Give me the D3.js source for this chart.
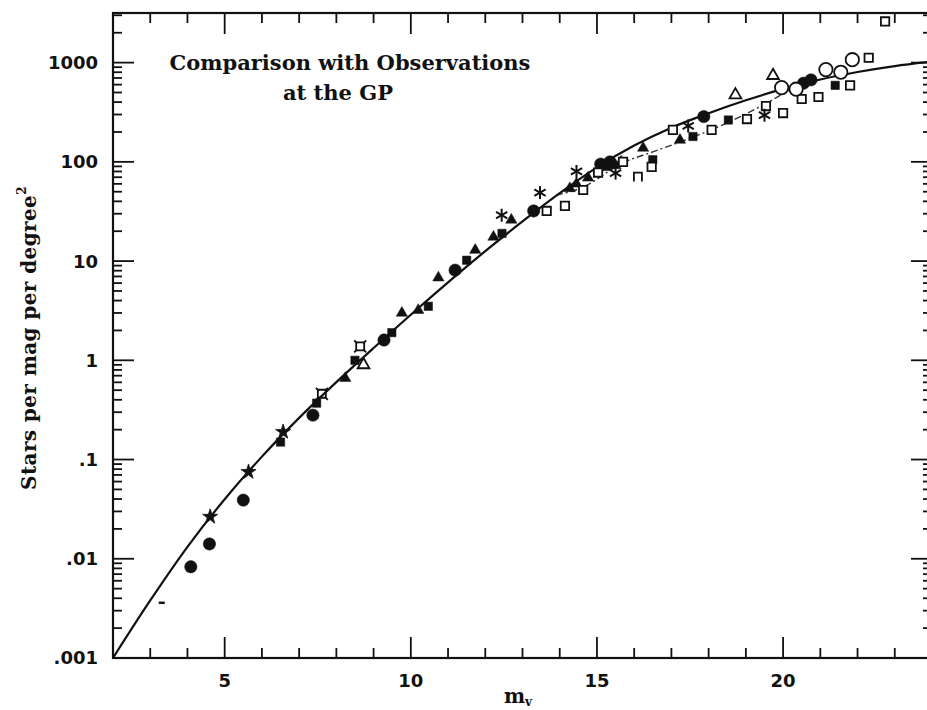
<!DOCTYPE html>
<html>
  <head>
    <meta charset="utf-8">
    <title>Comparison with Observations at the GP</title>
    <script src="https://cdn.jsdelivr.net/npm/d3@7"></script>
    <style>
      body { margin: 0; background: #fff; }
      svg { display: block; }
      .tick-label { font-family: "DejaVu Sans", sans-serif; font-weight: bold; font-size: 18px; fill: #111; }
      .title { font-family: "DejaVu Serif", serif; font-weight: bold; font-size: 21px; fill: #111; }
      .axis-title { font-family: "DejaVu Serif", serif; font-weight: bold; font-size: 20px; fill: #111; }
    </style>
  </head>
  <body>
    <svg id="chart"></svg>
    <script>
// model curve (solid)
var curveMag = [2, 3, 4, 5, 6, 7, 8, 9, 10, 11, 12, 13, 14, 15, 16, 17, 18, 19, 20, 21, 22, 23, 24];
var curveN = [0.001, 0.0038, 0.0132, 0.0398, 0.107, 0.263, 0.603, 1.33, 2.88, 6.10, 12.6, 25.1,
              48.4, 88.1, 146, 221, 309, 417, 543, 676, 804, 923, 1023];

// dash-dot branch
var dashMag = [13.9, 14.6, 15.7, 16.5, 17.3, 18.6, 19.5, 20.2];
var dashN = [46, 55, 98, 126, 162, 257, 380, 537];

// observations, one list per symbol  [m_v, stars per mag per deg^2]
var filledCircles = [[4.09, 0.0083], [4.59, 0.0141], [5.5, 0.039], [7.37, 0.28], [9.28, 1.6],
  [11.19, 8.1], [13.3, 32], [15.1, 95], [15.35, 100], [17.87, 286], [20.55, 620], [20.75, 670]];
var filledTriangles = [[8.24, 0.66], [9.76, 3.0], [10.2, 3.2], [10.74, 6.8], [11.73, 12.9],
  [12.22, 17.5], [12.7, 26], [14.27, 54], [14.45, 60], [14.76, 69], [15.5, 92], [15.65, 100],
  [16.24, 138], [17.23, 166]];
var filledSquares = [[6.5, 0.15], [7.47, 0.37], [8.5, 1.0], [9.49, 1.9], [10.47, 3.5],
  [11.5, 10.2], [12.45, 19], [15.25, 90], [16.5, 105], [17.58, 180], [18.53, 264], [21.4, 590]];
var openSquares = [[13.65, 32], [14.14, 36], [14.63, 52], [15.03, 78], [15.7, 100], [16.47, 89],
  [17.04, 210], [18.08, 210], [19.03, 270], [19.54, 365], [20.0, 310], [20.5, 430], [20.95, 450],
  [21.8, 590], [22.3, 1120], [22.74, 2600]];
var openCircles = [[19.96, 560], [20.35, 540], [21.15, 850], [21.55, 800], [21.86, 1070]];
var openTriangles = [[8.73, 0.9], [18.72, 473], [19.73, 740]];
var asterisks = [[12.44, 29], [13.47, 49], [14.45, 80], [15.5, 77], [17.45, 230], [19.5, 295]];
var triStars = [[4.61, 0.0265], [5.64, 0.075], [6.57, 0.19]];
var crossStars = [[7.61, 0.46], [8.64, 1.38]];
var dashes = [[3.31, 0.0036]];
var brackets = [[16.1, 71]];

var xTicks = [5, 10, 15, 20];
var yTicks = [0.001, 0.01, 0.1, 1, 10, 100, 1000];
var yTickLabels = [".001", ".01", ".1", "1", "10", "100", "1000"];

var width = 927, height = 710;
var margin = { top: 13, left: 113, bottom: 52 };
var plotRight = 932;

var svg = d3.select("#chart").attr("width", width).attr("height", height);

var x = d3.scaleLinear().domain([2, 24]).range([margin.left, plotRight]);
var y = d3.scaleLog().domain([0.001, Math.pow(10, 3.5)]).range([height - margin.bottom, margin.top]);

var x0 = x.range()[0], x1 = x.range()[1], y0 = y.range()[0], y1 = y.range()[1];

svg.append("clipPath").attr("id", "clip")
  .append("rect").attr("x", x0).attr("y", y1).attr("width", x1 - x0).attr("height", y0 - y1);

// ticks on all four sides
var minorX = d3.range(3, 24).filter(function(d) { return d % 5 != 0; });
var minorY = [];
d3.range(-3, 4).forEach(function(e) {
  d3.range(2, 10).forEach(function(k) {
    var v = k * Math.pow(10, e);
    if (v < Math.pow(10, 3.5)) minorY.push(v);
  });
});

var ticks = svg.append("g").attr("stroke", "#111").attr("stroke-width", 1.8);

function xTick(v, len) {
  ticks.append("line").attr("x1", x(v)).attr("x2", x(v)).attr("y1", y0).attr("y2", y0 - len);
  ticks.append("line").attr("x1", x(v)).attr("x2", x(v)).attr("y1", y1).attr("y2", y1 + len);
}
function yTick(v, len) {
  ticks.append("line").attr("y1", y(v)).attr("y2", y(v)).attr("x1", x0).attr("x2", x0 + len);
  ticks.append("line").attr("y1", y(v)).attr("y2", y(v)).attr("x1", x1).attr("x2", x1 - len);
}
xTicks.forEach(function(v) { xTick(v, 21); });
minorX.forEach(function(v) { xTick(v, 10); });
yTicks.forEach(function(v) { yTick(v, 21); });
minorY.forEach(function(v) { yTick(v, 9); });

// frame
svg.append("rect")
  .attr("x", x0).attr("y", y1).attr("width", x1 - x0).attr("height", y0 - y1)
  .attr("fill", "none").attr("stroke", "#111").attr("stroke-width", 2.2);

// tick labels
svg.selectAll(".xlab").data(xTicks).enter().append("text")
  .attr("class", "tick-label")
  .attr("x", function(d) { return x(d); })
  .attr("y", 687)
  .attr("text-anchor", "middle")
  .text(function(d) { return d; });

svg.selectAll(".ylab").data(yTicks).enter().append("text")
  .attr("class", "tick-label")
  .attr("x", 98)
  .attr("y", function(d) { return y(d); })
  .attr("dy", "0.36em")
  .attr("text-anchor", "end")
  .text(function(d, i) { return yTickLabels[i]; });

// axis titles
var xt = svg.append("text").attr("class", "axis-title")
  .attr("x", 518).attr("y", 703).attr("text-anchor", "middle");
xt.append("tspan").text("m");
xt.append("tspan").attr("font-size", "12px").attr("dy", 3).text("v");

var yt = svg.append("text").attr("class", "axis-title")
  .attr("transform", "translate(36,338)rotate(-90)")
  .attr("text-anchor", "middle")
  .attr("letter-spacing", "0.4px");
yt.append("tspan").text("Stars per mag per degree");
yt.append("tspan").attr("font-size", "12px").attr("dy", -10).text("2");

svg.append("text").attr("class", "title")
  .attr("x", 350).attr("y", 70).attr("text-anchor", "middle")
  .text("Comparison with Observations");
svg.append("text").attr("class", "title")
  .attr("x", 338).attr("y", 100).attr("text-anchor", "middle")
  .text("at the GP");

// lines
var plot = svg.append("g").attr("clip-path", "url(#clip)");

var line = d3.line()
  .x(function(d) { return x(d[0]); })
  .y(function(d) { return y(d[1]); })
  .curve(d3.curveMonotoneX);

plot.append("path")
  .datum(d3.zip(dashMag, dashN))
  .attr("d", line)
  .attr("fill", "none").attr("stroke", "#333").attr("stroke-width", 1.4)
  .attr("stroke-dasharray", "7,3,2,3");

plot.append("path")
  .datum(d3.zip(curveMag, curveN))
  .attr("d", line)
  .attr("fill", "none").attr("stroke", "#111").attr("stroke-width", 2.2);

// markers
function pos(d) { return "translate(" + x(d[0]) + "," + y(d[1]) + ")"; }

function symbols(data, type, size, filled) {
  plot.append("g").selectAll("path").data(data).enter().append("path")
    .attr("transform", pos)
    .attr("d", d3.symbol().type(type).size(size))
    .attr("fill", filled ? "#111" : "#fff")
    .attr("stroke", "#111")
    .attr("stroke-width", filled ? 0.5 : 1.8);
}

symbols(filledCircles, d3.symbolCircle, 120, true);
symbols(filledTriangles, d3.symbolTriangle, 55, true);
symbols(filledSquares, d3.symbolSquare, 70, true);
symbols(openSquares, d3.symbolSquare, 70, false);
symbols(openCircles, d3.symbolCircle, 140, false);
symbols(openTriangles, d3.symbolTriangle, 60, false);

// asterisks
var ast = plot.append("g").selectAll("g").data(asterisks).enter().append("g")
  .attr("transform", pos)
  .attr("stroke", "#111").attr("stroke-width", 2);
[90, 30, -30].forEach(function(a) {
  var r = 6.5, t = a * Math.PI / 180;
  ast.append("line")
    .attr("x1", -r * Math.cos(t)).attr("y1", -r * Math.sin(t))
    .attr("x2", r * Math.cos(t)).attr("y2", r * Math.sin(t));
});

// triangle stars
plot.append("g").selectAll("path").data(triStars).enter().append("path")
  .attr("transform", pos)
  .attr("d", d3.symbol().type(d3.symbolStar).size(70))
  .attr("fill", "#111").attr("stroke", "#111").attr("stroke-width", 0.8);

// crossed squares
var cs = plot.append("g").selectAll("g").data(crossStars).enter().append("g")
  .attr("transform", pos)
  .attr("stroke", "#111").attr("stroke-width", 1.8).attr("fill", "none");
cs.append("path").attr("d", "M-4,-4L4,-4L4,4L-4,4Z");
cs.append("path").attr("d", "M-6,-6L-3,-3M6,-6L3,-3M6,6L3,3M-6,6L-3,3");

// dashes
plot.append("g").selectAll("line").data(dashes).enter().append("line")
  .attr("transform", pos)
  .attr("x1", -3).attr("x2", 3)
  .attr("stroke", "#111").attr("stroke-width", 2.5);

// brackets (open square without bottom)
plot.append("g").selectAll("path").data(brackets).enter().append("path")
  .attr("transform", pos)
  .attr("d", "M-4,5L-4,-4L4,-4L4,5")
  .attr("fill", "none").attr("stroke", "#111").attr("stroke-width", 1.8);
    </script>
  </body>
</html>
